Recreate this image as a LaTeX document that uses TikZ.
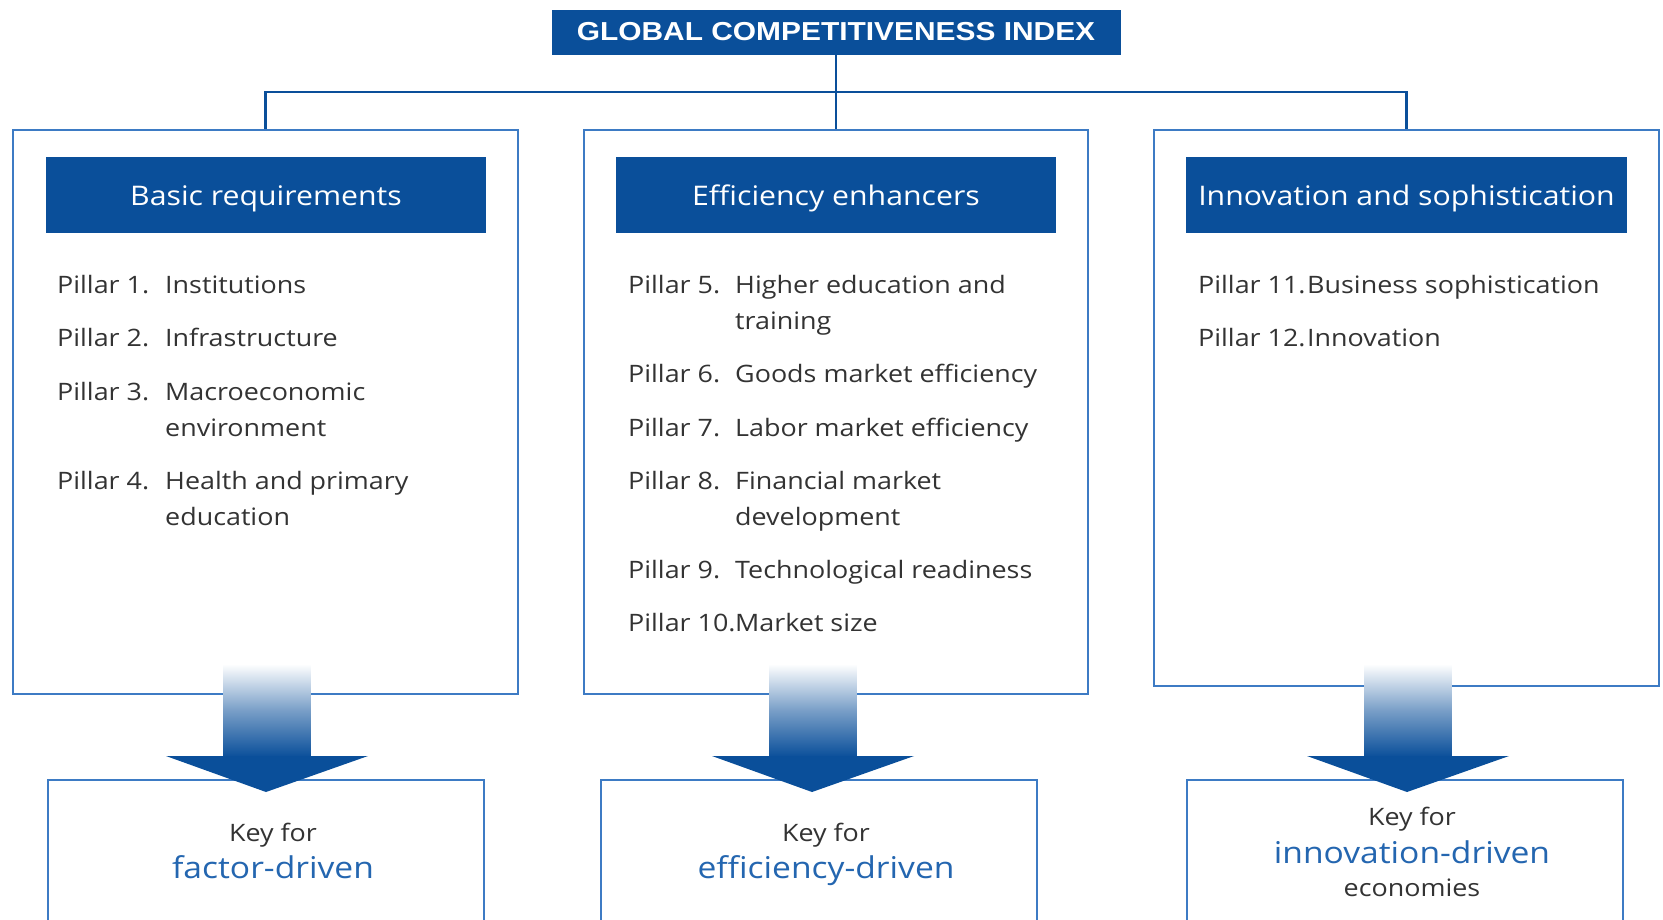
\documentclass[tikz,border=0pt]{standalone}
\usepackage{fontspec}
\setmainfont{Open Sans}[FakeStretch=1.12]
\newfontfamily\titlefont{Liberation Sans}[FakeStretch=1.15]
\definecolor{gciblue}{HTML}{0A4F9A}
\definecolor{gciline}{HTML}{3D7BC4}
\definecolor{gcitext}{HTML}{333333}
\definecolor{gcikey}{HTML}{2466B0}
\tikzset{
  outerbox/.style={draw=gciline, line width=2.4pt, fill=white, inner sep=0pt},
  headbox/.style={fill=gciblue, inner sep=0pt, minimum width=440pt, minimum height=76pt},
  headtxt/.style={anchor=base, inner sep=0pt, text=white, font=\fontsize{27}{32}\selectfont},
  pillar/.style={anchor=base west, inner sep=0pt, text=gcitext, font=\fontsize{24}{28}\selectfont},
  keytxt/.style={anchor=base, inner sep=0pt, text=gcitext, font=\fontsize{24}{28}\selectfont},
  keyblue/.style={anchor=base, inner sep=0pt, text=gcikey, font=\fontsize{30}{35}\selectfont},
  econ/.style={anchor=base, inner sep=0pt, text=gcitext, font=\fontsize{24}{28}\selectfont},
  bus/.style={draw=gciblue, line width=2.6pt},
}
\begin{document}
\begin{tikzpicture}[x=1pt,y=-1pt]
\useasboundingbox (0,0) rectangle (1663,919);
\clip (0,0) rectangle (1663,919);
\fill[white] (0,0) rectangle (1663,919);
% title
\node[fill=gciblue, text=white, minimum width=569pt, minimum height=45pt, inner sep=0pt,
      font=\titlefont\bfseries\fontsize{26}{30}\selectfont] (title) at (836,32) {GLOBAL COMPETITIVENESS INDEX};
% outer boxes
\node[outerbox, minimum width=505pt, minimum height=564pt] (left) at (265.5,412) {};
\node[outerbox, minimum width=504pt, minimum height=564pt] (mid) at (836,412) {};
\node[outerbox, minimum width=505pt, minimum height=556pt] (right) at (1406.5,408) {};
% connectors
\coordinate (bus) at (836,92);
\draw[bus] (title.south) -- (mid.north);
\draw[bus] (left.north) |- (bus) -| (right.north);
% headers
\node[headbox] (hleft) at (266,195) {};
\node[headtxt] (hleftt) at (266,205) {Basic requirements};
\node[headbox] (hmid) at (836,195) {};
\node[headtxt] (hmidt) at (836,205) {Efficiency enhancers};
\node[headbox, minimum width=441pt] (hright) at (1406.5,195) {};
\node[headtxt] (hrightt) at (1406.5,205) {Innovation and sophistication};
% left pillars
\node[pillar] (p1) at (57,293) {Pillar 1.};
\node[pillar] (t1) at (165,293) {Institutions};
\node[pillar] (p2) at (57,346) {Pillar 2.};
\node[pillar] (t2) at (165,346) {Infrastructure};
\node[pillar] (p3) at (57,400) {Pillar 3.};
\node[pillar] (t3) at (165,400) {Macroeconomic};
\node[pillar] (t3b) at (165,436) {environment};
\node[pillar] (p4) at (57,489) {Pillar 4.};
\node[pillar] (t4) at (165,489) {Health and primary};
\node[pillar] (t4b) at (165,525) {education};
% middle pillars
\node[pillar] (p5) at (628,293) {Pillar 5.};
\node[pillar] (t5) at (735,293) {Higher education and};
\node[pillar] (t5b) at (735,329) {training};
\node[pillar] (p6) at (628,382) {Pillar 6.};
\node[pillar] (t6) at (735,382) {Goods market efficiency};
\node[pillar] (p7) at (628,436) {Pillar 7.};
\node[pillar] (t7) at (735,436) {Labor market efficiency};
\node[pillar] (p8) at (628,489) {Pillar 8.};
\node[pillar] (t8) at (735,489) {Financial market};
\node[pillar] (t8b) at (735,525) {development};
\node[pillar] (p9) at (628,578) {Pillar 9.};
\node[pillar] (t9) at (735,578) {Technological readiness};
\node[pillar] (p10) at (628,631) {Pillar 10.};
\node[pillar] (t10) at (735,631) {Market size};
% right pillars
\node[pillar] (p11) at (1198,293) {Pillar 11.};
\node[pillar] (t11) at (1307,293) {Business sophistication};
\node[pillar] (p12) at (1198,346) {Pillar 12.};
\node[pillar] (t12) at (1307,346) {Innovation};
% bottom boxes
\node[outerbox, minimum width=436pt, minimum height=180pt] (bleft) at (266,870) {};
\node[outerbox, minimum width=436pt, minimum height=180pt] (bmid) at (819,870) {};
\node[outerbox, minimum width=436pt, minimum height=180pt] (bright) at (1405,870) {};
% arrows
\foreach \cx in {267,813,1408} {
  \shade[top color=white, bottom color=gciblue, middle color=gciblue!55!white]
    (\cx-43.5,664) rectangle (\cx+43.5,757);
  \fill[gciblue] (\cx-101,756) -- (\cx+101,756) -- (\cx-1,792) -- cycle;
}
% bottom texts
\node[keytxt] (k1) at (273,841) {Key for};
\node[keyblue] (f1) at (273,878) {factor-driven};
\node[keytxt] (k2) at (826,841) {Key for};
\node[keyblue] (f2) at (826,878) {efficiency-driven};
\node[keytxt] (k3) at (1412,825) {Key for};
\node[keyblue] (f3) at (1412,863) {innovation-driven};
\node[econ] (e3) at (1412,896) {economies};
\end{tikzpicture}
\end{document}
